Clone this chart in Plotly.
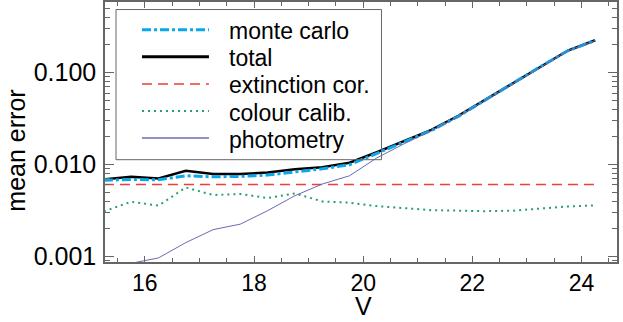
import plotly.graph_objects as go

# V magnitude bins
v_mag = [15.25, 15.75, 16.25, 16.75, 17.25, 17.75, 18.25, 18.75, 19.25, 19.75,
         20.25, 20.75, 21.25, 21.75, 22.25, 22.75, 23.25, 23.75, 24.25]

monte_carlo = [0.00673, 0.00687, 0.00682, 0.00753, 0.00734, 0.00741, 0.00767, 0.00822, 0.00897, 0.00993,
               0.0133, 0.0178, 0.0234, 0.0336, 0.0510, 0.0770, 0.1165, 0.173, 0.224]
total = [0.00690, 0.00735, 0.00705, 0.00855, 0.00787, 0.00787, 0.00818, 0.00887, 0.00933, 0.01043,
         0.01358, 0.01812, 0.0238, 0.0340, 0.0514, 0.0775, 0.117, 0.174, 0.225]
extinction = [0.00606] * len(v_mag)
colour_calib = [0.00308, 0.00393, 0.00356, 0.00562, 0.00465, 0.00477, 0.00431, 0.00484, 0.00396, 0.00384,
                0.00352, 0.00334, 0.00318, 0.00314, 0.00310, 0.00314, 0.00332, 0.00349, 0.00358]
photometry = [0.00062, 0.00084, 0.00096, 0.00141, 0.00195, 0.00224, 0.00314, 0.00457, 0.00612, 0.00753,
              0.0118, 0.0168, 0.0233, 0.0334, 0.0508, 0.0768, 0.1163, 0.173, 0.224]

y_ticks = [0.001, 0.01, 0.1]
y_ticktext = ["0.001", "0.010", "0.100"]
y_minor = [m * 10 ** e for e in (-4, -3, -2, -1) for m in range(2, 10)]

FONT = "Liberation Sans, Arial, Helvetica, sans-serif"
AXC = "#666666"

# name, values, line style  (legend order = list order)
series = [
    ("monte carlo", monte_carlo, dict(color="#0aa8e8", width=3, dash="9px,3px,3px,3px")),
    ("total", total, dict(color="black", width=2.5)),
    ("extinction cor.", extinction, dict(color="#f03c3c", width=1.5, dash="10px,6px")),
    ("colour calib.", colour_calib, dict(color="#2a9e6e", width=2, dash="2px,4px")),
    ("photometry", photometry, dict(color="#6a6ab8", width=1)),
]
# drawing order: total underneath monte carlo
draw_order = [1, 0, 2, 3, 4]

fig = go.Figure()
for i in draw_order:
    name, vals, style = series[i]
    fig.add_trace(go.Scatter(x=v_mag, y=vals, mode="lines", name=name,
                             line=style, showlegend=False))

# hand-built legend box (IDL-style) in plot-area coordinates
shapes = [dict(type="rect", xref="x domain", yref="y domain",
               x0=0.0215, x1=0.540, y0=0.3935, y1=0.971,
               line=dict(color=AXC, width=1), fillcolor="rgba(0,0,0,0)")]
annotations = []
row_top, row_step = 0.893, 0.1040
for k, (name, vals, style) in enumerate(series):
    yy = row_top - k * row_step
    ls = dict(style)
    if name == "total":
        ls["width"] = 3
    if name == "photometry":
        ls["width"] = 1.5
    shapes.append(dict(type="line", xref="x domain", yref="y domain",
                       x0=0.0723, x1=0.203, y0=yy, y1=yy, line=ls))
    annotations.append(dict(text=name, xref="x domain", yref="y domain",
                            x=0.2377, y=yy - 0.006, xanchor="left", yanchor="middle",
                            showarrow=False, font=dict(size=23, color="black")))

# axis titles placed like the IDL original
annotations.append(dict(text="V", xref="x domain", yref="y domain", x=0.504, y=-0.17,
                        xanchor="center", yanchor="middle", showarrow=False, borderpad=0,
                        font=dict(size=25, color="black")))
annotations.append(dict(text="mean error", xref="x domain", yref="y domain", x=-0.174, y=0.428,
                        xanchor="center", yanchor="middle", textangle=-90, showarrow=False,
                        borderpad=0, font=dict(size=25, color="black")))

fig.update_layout(
    width=623, height=322,
    margin=dict(l=105, r=6, t=2, b=60),
    paper_bgcolor="white", plot_bgcolor="white",
    font=dict(family=FONT, size=23, color="black"),
    showlegend=False,
    shapes=shapes,
    annotations=annotations,
    xaxis=dict(range=[15.27, 24.65], tickvals=[16, 18, 20, 22, 24],
               ticks="inside", ticklen=6, tickcolor=AXC, tickwidth=1,
               tickfont=dict(size=23), automargin=False,
               minor=dict(dtick=0.5, tick0=0, ticks="inside", ticklen=4, tickcolor=AXC),
               showline=True, linecolor=AXC, linewidth=1.5, mirror="ticks",
               showgrid=False, zeroline=False),
    yaxis=dict(type="log", range=[-3.062, -0.231],
               tickvals=y_ticks, ticktext=y_ticktext,
               ticks="inside", ticklen=9, tickcolor=AXC, tickwidth=1,
               tickfont=dict(size=25), ticklabelstandoff=2, automargin=False,
               minor=dict(tickmode="array", tickvals=y_minor, ticks="inside", ticklen=5, tickcolor=AXC),
               showline=True, linecolor=AXC, linewidth=1.5, mirror="ticks",
               showgrid=False, zeroline=False),
)

fig.write_html("out.html", config={"displayModeBar": False},
               post_script="document.body.style.margin='0';")
